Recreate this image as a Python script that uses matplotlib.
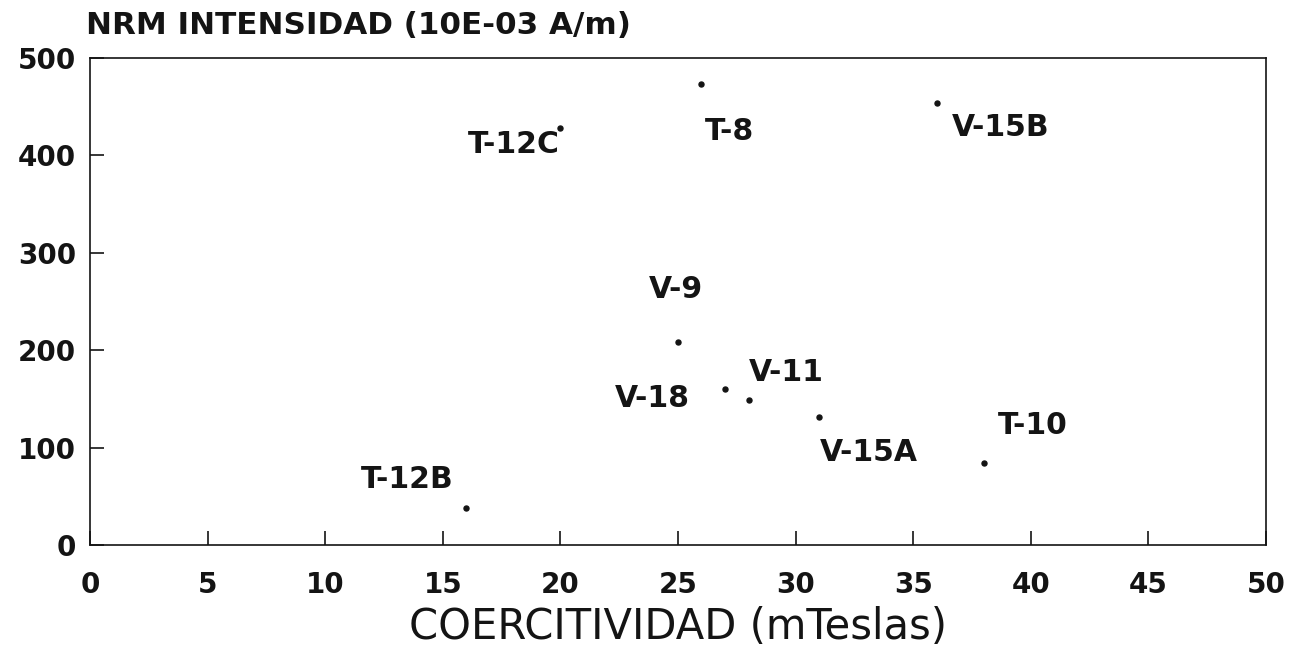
import matplotlib
matplotlib.use("Agg")
import matplotlib.pyplot as plt

# DATA
samples = ["T-12B", "T-12C", "T-8", "V-15B", "V-9", "V-18", "V-11", "V-15A", "T-10"]
coercivity = [16, 20, 26, 36, 25, 27, 28, 31, 38]          # mTeslas
intensity = [38, 428, 473, 454, 208, 160, 149, 131, 84]     # 10E-03 A/m

x_ticks = [0, 5, 10, 15, 20, 25, 30, 35, 40, 45, 50]
y_ticks = [0, 100, 200, 300, 400, 500]

# label placement relative to each dot (data units)
label_dx = [-2.5, -2.0, 1.2, 2.7, -0.1, -3.1, 1.6, 2.1, 2.1]
label_dy = [29, -17, -49, -26, 54, -10, 28, -36, 39]

FONT = "DejaVu Sans"
INK = "#141414"

fig = plt.figure(figsize=(12.91, 6.48), dpi=100)
ax = fig.add_axes([0.0697, 0.159, 0.9109, 0.752])

ax.plot(coercivity, intensity, "o", color=INK, markersize=3.6, linestyle="none")

for s, x, y, dx, dy in zip(samples, coercivity, intensity, label_dx, label_dy):
    ax.text(x + dx, y + dy, s, ha="center", va="center", fontsize=21.5,
            fontweight="bold", family=FONT, color=INK)

ax.set_xlim(0, 50)
ax.set_ylim(0, 500)
ax.set_xticks(x_ticks)
ax.set_yticks(y_ticks)
ax.tick_params(axis="both", direction="in", length=10, width=1.2, colors=INK,
               labelsize=20)
ax.tick_params(axis="x", pad=19)
ax.tick_params(axis="y", pad=10)
for lbl in ax.get_xticklabels() + ax.get_yticklabels():
    lbl.set_family(FONT)
    lbl.set_fontweight("bold")

for sp in ax.spines.values():
    sp.set_linewidth(1.2)
    sp.set_color(INK)

ax.set_xlabel("COERCITIVIDAD (mTeslas)", fontsize=30, family=FONT, color=INK,
              va="center")
ax.xaxis.set_label_coords(0.5, -0.168)
fig.text(0.067, 0.96, "NRM INTENSIDAD (10E-03 A/m)", fontsize=22.3, fontweight="bold",
         family=FONT, color=INK, ha="left", va="center")

fig.savefig("out.png", dpi=100)
